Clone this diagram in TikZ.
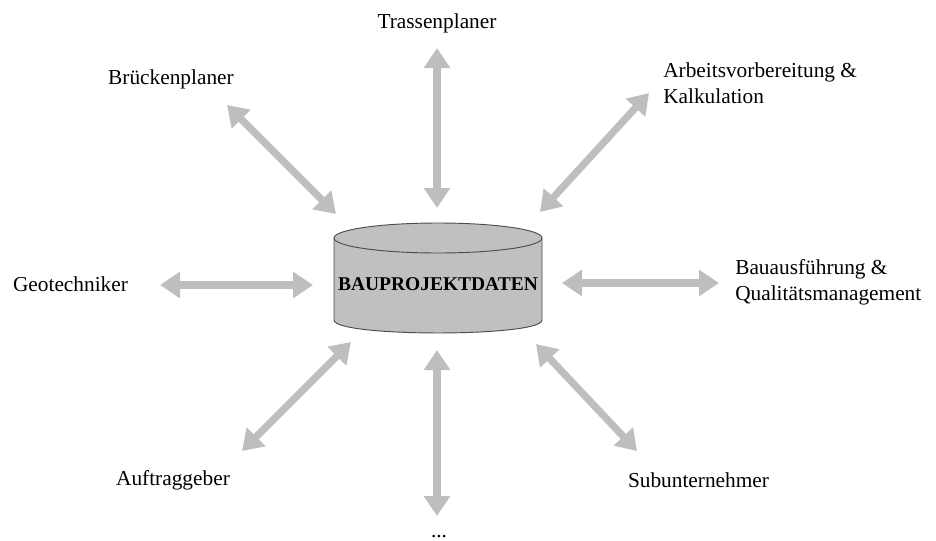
\documentclass[tikz,border=0pt]{standalone}
\usepackage{fontspec}
\setmainfont{Liberation Serif}
\usetikzlibrary{arrows.meta}
\definecolor{arrowgray}{RGB}{190,190,190}
\definecolor{dbgray}{RGB}{192,192,192}
\begin{document}
\begin{tikzpicture}[x=0.75pt,y=-0.75pt,
  lbl/.style={font=\fontsize{16}{19.5}\selectfont, inner sep=0pt, align=left},
  dbl/.style={line width=5.4pt, draw=arrowgray,
    {Triangle[width=19pt,length=15pt]}-{Triangle[width=19pt,length=15pt]}}]
\useasboundingbox (0,0) rectangle (936,540);
% database cylinder
\filldraw[fill=dbgray, draw=black!70, line width=0.7pt]
  (334,238) -- (334,320) .. controls (334,337.3) and (542,337.3) .. (542,320) -- (542,238) -- cycle;
\filldraw[fill=dbgray, draw=black!70, line width=0.7pt] (438,238) ellipse [x radius=104, y radius=15];
\node[font=\fontsize{14.6}{17}\selectfont\bfseries, inner sep=0pt] (db) at (438,284) {BAUPROJEKTDATEN};
% labels
\node[lbl] (tp) at (437,23) {Trassenplaner};
\node[lbl] (bp) at (171,79) {Brückenplaner};
\node[lbl, anchor=base west] (av) at (663,103) {Arbeitsvorbereitung \&\\Kalkulation};
\node[lbl] (gt) at (70.5,284) {Geotechniker};
\node[lbl, anchor=base west] (ba) at (735,300) {Bauausführung \&\\Qualitätsmanagement};
\node[lbl] (ag) at (173,480) {Auftraggeber};
\node[lbl] (su) at (698.5,480) {Subunternehmer};
\node[lbl, anchor=base] (dots) at (439,537) {...};
% arrow end coordinates
\coordinate (t1) at (437,48);  \coordinate (t2) at (437,208);
\coordinate (b1) at (437,350); \coordinate (b2) at (437,516);
\coordinate (l1) at (160,285); \coordinate (l2) at (313,285);
\coordinate (r1) at (562,283); \coordinate (r2) at (719,283);
\coordinate (ul1) at (227,105); \coordinate (ul2) at (336,214);
\coordinate (ur1) at (540,212); \coordinate (ur2) at (649,93);
\coordinate (ll1) at (242,451); \coordinate (ll2) at (351,342);
\coordinate (lr1) at (536,344); \coordinate (lr2) at (637,451);
% arrows
\draw[dbl] (t1) -- (t2);
\draw[dbl] (b1) -- (b2);
\draw[dbl] (l1) -- (l2);
\draw[dbl] (r1) -- (r2);
\draw[dbl] (ul1) -- (ul2);
\draw[dbl] (ur1) -- (ur2);
\draw[dbl] (ll1) -- (ll2);
\draw[dbl] (lr1) -- (lr2);
\end{tikzpicture}
\end{document}
